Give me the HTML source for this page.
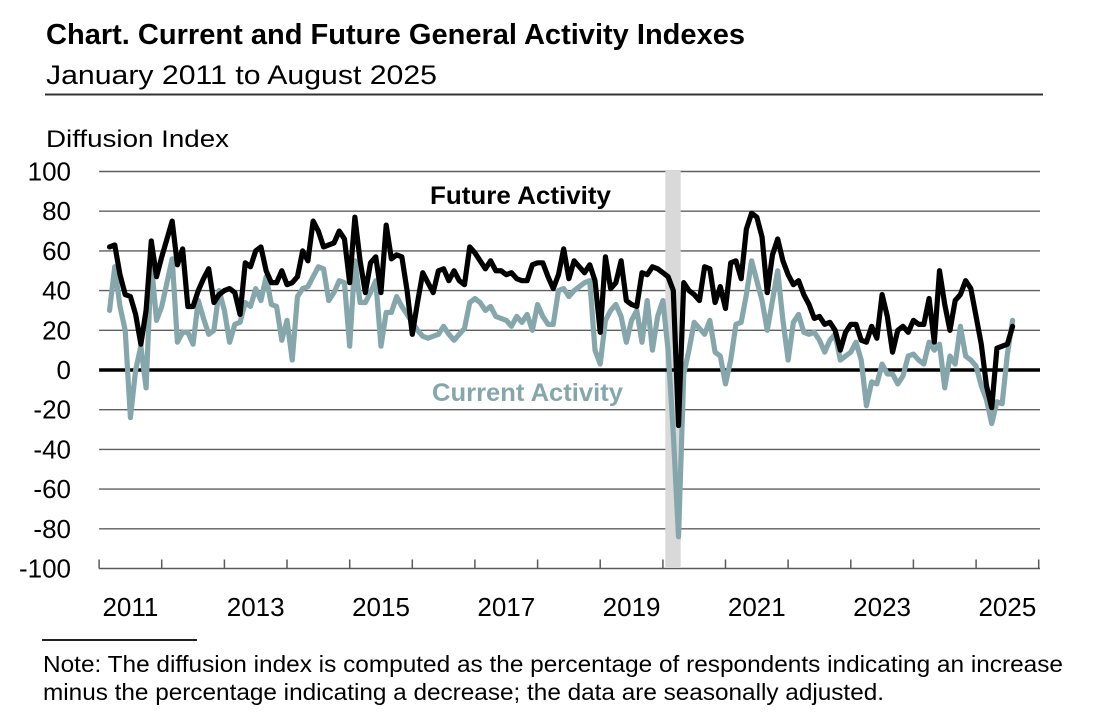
<!DOCTYPE html>
<html>
<head>
<meta charset="utf-8">
<style>
  html, body { margin: 0; padding: 0; background: #ffffff; }
  svg { display: block; }
  text { font-family: "Liberation Sans", Arial, sans-serif; }
</style>
</head>
<body>
<svg width="1095" height="726" viewBox="0 0 1095 726" xmlns="http://www.w3.org/2000/svg">
  <rect x="0" y="0" width="1095" height="726" fill="#ffffff"/>

  <!-- Title block -->
  <text x="46" y="44" font-size="29" font-weight="bold" fill="#000" textLength="699" lengthAdjust="spacingAndGlyphs">Chart. Current and Future General Activity Indexes</text>
  <text x="46" y="84" font-size="27" fill="#000" textLength="391" lengthAdjust="spacingAndGlyphs">January 2011 to August 2025</text>
  <line x1="45" y1="94.5" x2="1043" y2="94.5" stroke="#333" stroke-width="2"/>
  <text x="46" y="147" font-size="24" fill="#000" textLength="183" lengthAdjust="spacingAndGlyphs">Diffusion Index</text>

  <!-- Gridlines -->
  <g stroke="#5f5f5f" stroke-width="1.4">
    <line x1="99.1" y1="171.5" x2="1040" y2="171.5"/>
    <line x1="99.1" y1="211.2" x2="1040" y2="211.2"/>
    <line x1="99.1" y1="250.9" x2="1040" y2="250.9"/>
    <line x1="99.1" y1="290.6" x2="1040" y2="290.6"/>
    <line x1="99.1" y1="330.3" x2="1040" y2="330.3"/>
    <line x1="99.1" y1="409.7" x2="1040" y2="409.7"/>
    <line x1="99.1" y1="449.4" x2="1040" y2="449.4"/>
    <line x1="99.1" y1="489.1" x2="1040" y2="489.1"/>
    <line x1="99.1" y1="528.8" x2="1040" y2="528.8"/>
  </g>

  <!-- Bottom axis and ticks -->
  <g stroke="#595959" stroke-width="1.5">
    <line x1="99.1" y1="568.5" x2="1040" y2="568.5"/>
    <line x1="99.1" y1="559.5" x2="99.1" y2="568.5"/>
    <line x1="161.7" y1="559.5" x2="161.7" y2="568.5"/>
    <line x1="224.4" y1="559.5" x2="224.4" y2="568.5"/>
    <line x1="287.0" y1="559.5" x2="287.0" y2="568.5"/>
    <line x1="349.7" y1="559.5" x2="349.7" y2="568.5"/>
    <line x1="412.3" y1="559.5" x2="412.3" y2="568.5"/>
    <line x1="474.9" y1="559.5" x2="474.9" y2="568.5"/>
    <line x1="537.6" y1="559.5" x2="537.6" y2="568.5"/>
    <line x1="600.2" y1="559.5" x2="600.2" y2="568.5"/>
    <line x1="662.9" y1="559.5" x2="662.9" y2="568.5"/>
    <line x1="725.5" y1="559.5" x2="725.5" y2="568.5"/>
    <line x1="788.1" y1="559.5" x2="788.1" y2="568.5"/>
    <line x1="850.8" y1="559.5" x2="850.8" y2="568.5"/>
    <line x1="913.4" y1="559.5" x2="913.4" y2="568.5"/>
    <line x1="976.1" y1="559.5" x2="976.1" y2="568.5"/>
    <line x1="1038.7" y1="559.5" x2="1038.7" y2="568.5"/>
  </g>

  <!-- Recession bar -->
  <rect x="665.3" y="171" width="15.4" height="397" fill="#d9d9d9"/>

  <!-- Zero line -->
  <line x1="99.1" y1="370" x2="1040" y2="370" stroke="#000" stroke-width="3.5"/>

  <!-- Y labels -->
  <g font-size="26" fill="#000" text-anchor="end">
    <text x="71" y="180.5">100</text>
    <text x="71" y="220.2">80</text>
    <text x="71" y="259.9">60</text>
    <text x="71" y="299.6">40</text>
    <text x="71" y="339.3">20</text>
    <text x="71" y="379">0</text>
    <text x="71" y="418.7">-20</text>
    <text x="71" y="458.4">-40</text>
    <text x="71" y="498.1">-60</text>
    <text x="71" y="537.8">-80</text>
    <text x="71" y="577.5">-100</text>
  </g>

  <!-- X labels -->
  <g font-size="26" fill="#000" text-anchor="middle">
    <text x="130.4" y="616">2011</text>
    <text x="255.7" y="616">2013</text>
    <text x="381.0" y="616">2015</text>
    <text x="506.3" y="616">2017</text>
    <text x="631.6" y="616">2019</text>
    <text x="756.8" y="616">2021</text>
    <text x="882.1" y="616">2023</text>
    <text x="1007.4" y="616">2025</text>
  </g>

  <!-- Current Activity (gray) -->
  <polyline transform="translate(99.1 370) scale(5.22 -1.985)" fill="none" stroke="#85a7ab" stroke-width="5.2" stroke-linejoin="round" stroke-linecap="round" vector-effect="non-scaling-stroke"
    points="2,30 3,52 4,32 5,20 6,-24 7,0 8,12 9,-9 10,54 11,25 12,32 13,44 14,56 15,14 16,19 17,19 18,13 19,35 20,26 21,18 22,20 23,40 24,30 25,14 26,23 27,24 28,34 29,32 30,41 31,35 32,47 33,33 34,32 35,15 36,25 37,5 38,37 39,41 40,42 41,47 42,52 43,51 44,35 45,39 46,45 47,44 48,12 49,55 50,34 51,34 52,39 53,45 54,12 55,29 56,29 57,37 58,32 59,28 60,24 61,20 62,17 63,16 64,17 65,18 66,22 67,18 68,15 69,18 70,21 71,34 72,36 73,34 74,30 75,32 76,27 77,26 78,25 79,22 80,27 81,24 82,28 83,20 84,33 85,27 86,23 87,23 88,40 89,41 90,37 91,40 92,42 93,44 94,45 95,10 96,3 97,25 98,30 99,33 100,27 101,14 102,25 103,30 104,14 105,35 106,10 107,27 108,35 109,10 110,-32 111,-84 112,-2 113,10 114,24 115,21 116,18 117,25 118,9 119,7 120,-7 121,5 122,23 123,24 124,38 125,55 126,45 127,35 128,20 129,35 130,50 131,25 132,5 133,24 134,28 135,19 136,18 137,19 138,15 139,9 140,15 141,18 142,5 143,7 144,9 145,14 146,5 147,-18 148,-6 149,-7 150,3 151,-2 152,-2 153,-7 154,-3 155,7 156,8 157,5 158,3 159,14 160,10 161,13 162,-9 163,7 164,3 165,22 166,7 167,5 168,2 169,-8 170,-15 171,-27 172,-16 173,-17 174,8 175,25"/>

  <!-- Future Activity (black) -->
  <polyline transform="translate(99.1 370) scale(5.22 -1.985)" fill="none" stroke="#000000" stroke-width="5.2" stroke-linejoin="round" stroke-linecap="round" vector-effect="non-scaling-stroke"
    points="2,62 3,63 4,48 5,38 6,37 7,28 8,13 9,30 10,65 11,47 12,57 13,66 14,75 15,53 16,61 17,32 18,32 19,40 20,46 21,51 22,34 23,38 24,40 25,41 26,39 27,28 28,54 29,52 30,60 31,62 32,50 33,44 34,44 35,50 36,43 37,44 38,47 39,60 40,55 41,75 42,70 43,62 44,63 45,64 46,70 47,66 48,44 49,77 50,55 51,39 52,54 53,57 54,39 55,73 56,56 57,58 58,57 59,40 60,18 61,34 62,49 63,44 64,39 65,50 66,51 67,45 68,50 69,45 70,43 71,62 72,59 73,55 74,51 75,55 76,50 77,50 78,48 79,49 80,46 81,45 82,45 83,53 84,54 85,54 86,47 87,41 88,48 89,61 90,46 91,55 92,52 93,49 94,53 95,45 96,19 97,57 98,41 99,44 100,55 101,35 102,33 103,32 104,49 105,48 106,52 107,51 108,49 109,47 110,40 111,-28 112,44 113,40 114,38 115,35 116,52 117,51 118,34 119,42 120,31 121,54 122,55 123,46 124,71 125,79 126,77 127,67 128,39 129,58 130,66 131,55 132,48 133,43 134,45 135,38 136,33 137,26 138,27 139,23 140,24 141,20 142,10 143,19 144,23 145,23 146,15 147,14 148,22 149,16 150,38 151,27 152,9 153,20 154,22 155,19 156,25 157,23 158,23 159,36 160,14 161,50 162,33 163,20 164,35 165,38 166,45 167,41 168,27 169,13 170,-8 171,-19 172,11 173,12 174,13 175,22"/>

  <!-- Series labels -->
  <text x="430" y="204" font-size="25" font-weight="bold" fill="#000" textLength="181" lengthAdjust="spacingAndGlyphs">Future Activity</text>
  <text x="432" y="401" font-size="25" font-weight="bold" fill="#85a7ab" textLength="191" lengthAdjust="spacingAndGlyphs">Current Activity</text>

  <!-- Footnote -->
  <line x1="42" y1="640" x2="197" y2="640" stroke="#222" stroke-width="2"/>
  <text x="43" y="672" font-size="23" fill="#000" textLength="1020" lengthAdjust="spacingAndGlyphs">Note: The diffusion index is computed as the percentage of respondents indicating an increase</text>
  <text x="43" y="700" font-size="23" fill="#000" textLength="841" lengthAdjust="spacingAndGlyphs">minus the percentage indicating a decrease; the data are seasonally adjusted.</text>
</svg>
</body>
</html>
